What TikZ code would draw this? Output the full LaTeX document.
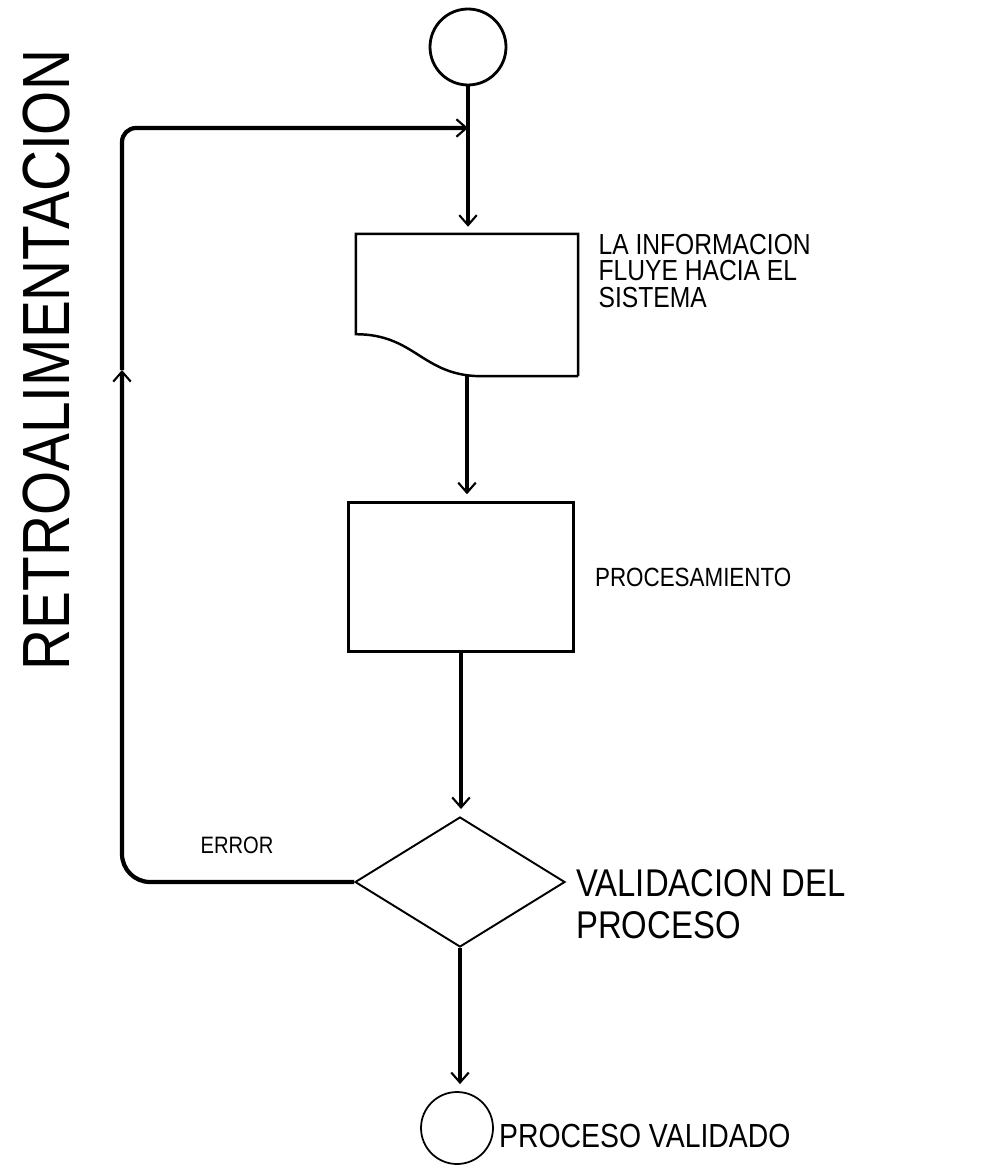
\documentclass[tikz,border=0pt]{standalone}
\usepackage{fontspec}
\setmainfont{Liberation Sans}[FakeStretch=0.85]
\usetikzlibrary{arrows.meta, positioning, shapes.geometric}
\tikzset{
  terminal/.style = {circle, draw=black, line width=1.6pt, minimum size=1.52cm, inner sep=0pt},
  caja/.style = {rectangle, draw=black, line width=1.4pt, minimum width=4.5cm, minimum height=2.98cm, inner sep=0pt},
  decision/.style = {diamond, draw=black, line width=1.1pt, minimum width=4.2cm, minimum height=2.6cm, inner sep=0pt},
  etiqueta/.style = {align=left, inner sep=0pt},
  flecha/.style = {-{Straight Barb[length=2mm,width=3.5mm,line width=1.2pt]}, line width=2.4pt}
}

\begin{document}
\begin{tikzpicture}[x=0.02cm, y=-0.02cm]
\useasboundingbox (0,0) rectangle (1000,1169);

% Shapes
\node[terminal] (inicio) at (468,47) {};
\node[caja, draw=none, minimum width=4.4cm, minimum height=2.8cm] (entrada) at (467,305) {};
\node[caja] (proceso) at (461,577) {};
\node[decision] (valida) at (460,882) {};
\node[terminal, minimum size=1.44cm, line width=1pt] (fin) at (457,1128) {};

% document outline (wavy bottom)
\draw[line width=1.4pt] (entrada.south east) -- (entrada.north east) -- (entrada.north west)
  -- ([yshift=0.84cm]entrada.south west)
  .. controls +(1.2cm,0) and +(-1.2cm,0) .. ([xshift=0.3cm]entrada.south)
  -- (entrada.south east);

% Labels
\node[etiqueta, font=\fontsize{16.5}{15}\selectfont, right=0.4cm of entrada.north east, anchor=north west] (tentrada) {LA INFORMACION\\FLUYE HACIA EL\\SISTEMA};
\node[etiqueta, font=\fontsize{15}{16}\selectfont, right=0.4cm of proceso] (tproceso) {PROCESAMIENTO};
\node[etiqueta, font=\fontsize{22}{24}\selectfont, right=0.2cm of valida, yshift=-0.45cm] (tvalida) {VALIDACION DEL\\PROCESO};
\node[etiqueta, font=\fontsize{19}{20}\selectfont, right=0.1cm of fin, yshift=-0.15cm] (tfin) {PROCESO VALIDADO};
\node[etiqueta, font=\fontsize{13.5}{14}\selectfont] (terror) at (237,845) {ERROR};
\node[etiqueta, font=\fontsize{38}{39}\selectfont, rotate=90] (tretro) at (47,360) {RETROALIMENTACION};

% ----- ARROWS -----
\draw[flecha, shorten >=4pt] (inicio.south) -- (inicio.south |- entrada.north);
\draw[flecha, shorten >=4pt] (entrada.south) -- (entrada.south |- proceso.north);
\draw[flecha, shorten >=4pt] (proceso.south) -- (proceso.south |- valida.north);
\draw[flecha, shorten >=4pt] (valida.south) -- (valida.south |- fin.north);

% feedback loop
\coordinate (esqabajo) at (122,882);
\coordinate (medio) at (122,370);
\coordinate (esqarriba) at (122,128);
\coordinate (union) at (468,128);
\draw[flecha, rounded corners=16pt] (valida.west) -- (esqabajo) -- (medio);
\draw[flecha, rounded corners=8pt] (medio) -- (esqarriba) -- (union);

\end{tikzpicture}
\end{document}
